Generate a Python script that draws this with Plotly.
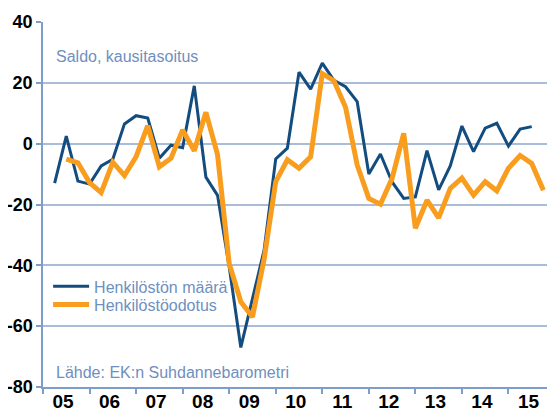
import plotly.graph_objects as go

quarters = [f"{y}Q{q}" for y in range(2005, 2016) for q in range(1, 5)]

henkiloston_maara = [
    -13, 2.5, -12.3, -13.3,
    -7.3, -5.1, 6.5, 9.2,
    8.4, -4.8, -0.5, -1.3,
    19, -11, -17, -40.5,
    -67, -51, -35, -5,
    -1.5, 23.5, 17.9, 26.5,
    20.8, 18.7, 13.8, -10,
    -3.4, -12.6, -18, -17.5,
    -2.3, -15.2, -7.3, 5.8,
    -2.6, 5.1, 6.7, -0.8,
    4.8, 5.6,
]
henkilostoodotus = [
    -5.1, -6.3, -12.8,
    -16.1, -6.1, -10.5, -4.3,
    5.9, -7.6, -4.8, 4.5,
    -2.3, 10.3, -3.6, -39.4,
    -52, -57, -38, -12.5,
    -5.3, -8.1, -4.3, 23,
    20.7, 12, -7, -18,
    -19.9, -11.4, 3.4, -27.8,
    -18.6, -24.4, -14.7, -11.3,
    -16.9, -12.5, -15.5, -8.1,
    -3.9, -6.5, -15.3,
]
maara_quarters = quarters[0:len(henkiloston_maara)]
odotus_quarters = quarters[1:1 + len(henkilostoodotus)]

year_labels = ["05", "06", "07", "08", "09", "10", "11", "12", "13", "14", "15"]
y_ticks = [-80, -60, -40, -20, 0, 20, 40]


def qpos(label):
    # end of quarter as a decimal year
    y, q = label.split("Q")
    return int(y) + int(q) / 4


BLUE = "#134C7E"
ORANGE = "#F89D1E"
TXT = "#6F8FC0"
GRID = "#A9BDD9"
AXIS = "#7E9DC8"
FONT = "Liberation Sans, Arial, sans-serif"

fig = go.Figure()
fig.add_trace(go.Scatter(
    x=[qpos(q) for q in maara_quarters], y=henkiloston_maara,
    mode="lines", name="Henkilöstön määrä",
    line=dict(color=BLUE, width=3), legend="legend",
))
fig.add_trace(go.Scatter(
    x=[qpos(q) for q in odotus_quarters], y=henkilostoodotus,
    mode="lines", name="Henkilöstöodotus",
    line=dict(color=ORANGE, width=5), legend="legend2",
))

legend_style = dict(
    xanchor="left", yanchor="top",
    bgcolor="rgba(0,0,0,0)", borderwidth=0,
    font=dict(size=16, color=TXT),
    itemwidth=36,
)

# page body has an 8px default margin, so the figure is offset by 8px
fig.update_layout(
    width=555, height=412,
    margin=dict(l=35, r=8, t=14, b=33, autoexpand=False),
    plot_bgcolor="white", paper_bgcolor="white",
    font=dict(family=FONT, color=TXT, size=16),
    showlegend=True,
    legend=dict(x=0.01, y=0.322, **legend_style),
    legend2=dict(x=0.01, y=0.272, **legend_style),
    xaxis=dict(
        range=[2005, 2016],
        tickmode="array",
        tickvals=[2005.43 + i for i in range(len(year_labels))],
        ticktext=[f"<b>{t}</b>" for t in year_labels],
        ticks="", showgrid=False, zeroline=False,
        showline=True, linecolor=AXIS, linewidth=1.5,
        tickfont=dict(family=FONT, size=19, color="#000000"),
        ticklabelstandoff=-4,
        automargin=False,
        minor=dict(tickmode="linear", tick0=2005, dtick=1, ticks="outside",
                   ticklen=5, tickcolor=AXIS, tickwidth=1.5, showgrid=False),
    ),
    yaxis=dict(
        range=[-80, 40],
        tickmode="array", tickvals=y_ticks,
        ticktext=[f"<b>{v}</b>" for v in y_ticks],
        ticks="outside", ticklen=5, tickcolor=AXIS, tickwidth=1.5,
        showgrid=True, gridcolor=GRID, gridwidth=1.5,
        zeroline=False, automargin=False,
        showline=True, linecolor=AXIS, linewidth=1.5,
        tickfont=dict(family=FONT, size=18, color="#000000"),
    ),
    annotations=[
        dict(text="Saldo, kausitasoitus", xref="paper", yref="paper",
             x=0.021, y=0.905, xanchor="left", yanchor="middle", showarrow=False,
             font=dict(size=16, color=TXT)),
        dict(text="Lähde: EK:n Suhdannebarometri", xref="paper", yref="paper",
             x=0.021, y=0.04, xanchor="left", yanchor="middle", showarrow=False,
             font=dict(size=16, color=TXT)),
    ],
)

fig.write_html("out.html")
